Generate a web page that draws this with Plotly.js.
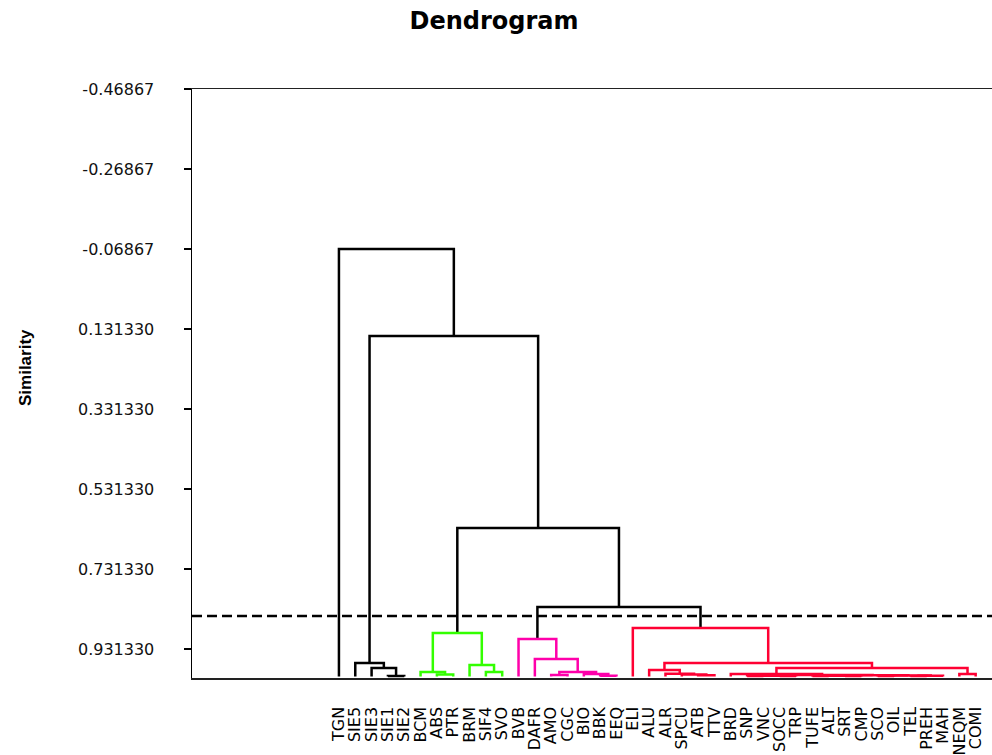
<!DOCTYPE html>
<html>
<head>
<meta charset="utf-8">
<script src="https://cdn.plot.ly/plotly-3.0.1.min.js"></script>
<style>
  html, body { margin: 0; padding: 0; background: #ffffff; }
  #chart { width: 992px; height: 755px; }
</style>
</head>
<body>
<div id="chart"></div>
<script>
// ---- data ----
const leafLabels = ['TGN','SIE5','SIE3','SIE1','SIE2','BCM','ABS','PTR','BRM','SIF4','SVO',
  'BVB','DAFR','AMO','CGC','BIO','BBK','EEQ','ELI','ALU','ALR','SPCU','ATB','TTV','BRD',
  'SNP','VNC','SOCC','TRP','TUFE','ALT','SRT','CMP','SCO','OIL','TEL','PREH','MAH','NEQM','COMI'];
// final cluster of each leaf (index into clusterColors)
const leafCluster = [0,1,1,1,1,2,2,2,2,2,2,3,3,3,3,3,3,3,4,4,4,4,4,4,4,4,4,4,4,4,4,4,4,4,4,4,4,4,4,4];
const clusterColors = ['#000000','#000000','#33ff00','#ff00aa','#ff0033'];
const linkColor = '#000000';
// linkage: node ids 0..39 are leaves, 40+k is merge k
const mergeLeft  = [3, 2, 1, 6, 5, 9, 8, 44, 13, 16, 15, 48, 12, 11, 22, 21, 20, 19, 25, 27, 58, 29, 31, 61, 33, 35, 65, 64, 63, 60, 24, 38, 70, 57, 18, 53, 47, 42, 0];
const mergeRight = [4, 40, 41, 7, 43, 10, 45, 46, 14, 17, 49, 50, 51, 52, 23, 54, 55, 56, 26, 28, 59, 30, 32, 62, 34, 36, 37, 66, 67, 68, 69, 39, 71, 72, 73, 74, 75, 76, 77];
const mergeSimilarity = [0.9988, 0.9788, 0.9663, 0.9950, 0.9888, 0.9888, 0.9713, 0.8913,
  0.9963, 0.9980, 0.9938, 0.9888, 0.9563, 0.9063,
  0.9970, 0.9950, 0.9930, 0.9838,
  0.9990, 0.9990, 0.9980, 0.9990, 0.9990, 0.9980, 0.9990, 0.9990, 0.9980, 0.9975, 0.9970, 0.9960, 0.9940,
  0.9938, 0.9788, 0.9663, 0.8788, 0.8263, 0.6288, 0.1488, -0.0687];
const leafSimilarity = 1.0;
const cutLevel = 0.8488;
const yTickValues = [-0.46867, -0.26867, -0.06867, 0.13133, 0.33133, 0.53133, 0.73133, 0.93133];
const yTickLabels = ['-0.46867','-0.26867','-0.06867','0.131330','0.331330','0.531330','0.731330','0.931330'];

// ---- build dendrogram segments ----
const nLeaves = leafLabels.length;
const nodeX = [], nodeH = [], nodeC = [];
for (let i = 0; i < nLeaves; i++) { nodeX.push(i); nodeH.push(leafSimilarity); nodeC.push(leafCluster[i]); }
const segs = {};
for (let k = 0; k < mergeLeft.length; k++) {
  const a = mergeLeft[k], b = mergeRight[k], h = mergeSimilarity[k];
  const c = (nodeC[a] === nodeC[b]) ? nodeC[a] : -1;
  const col = c >= 0 ? clusterColors[c] : linkColor;
  if (!segs[col]) segs[col] = {x: [], y: []};
  segs[col].x.push(nodeX[a], nodeX[a], nodeX[b], nodeX[b], null);
  segs[col].y.push(nodeH[a], h, h, nodeH[b], null);
  nodeX.push((nodeX[a] + nodeX[b]) / 2); nodeH.push(h); nodeC.push(c);
}
const traces = Object.keys(segs).map(col => ({
  type: 'scatter', mode: 'lines', x: segs[col].x, y: segs[col].y,
  line: {color: col, width: 2.5}, hoverinfo: 'skip', showlegend: false
}));

const layout = {
  width: 992, height: 755,
  margin: {l: 192, r: 0, t: 89, b: 77},
  paper_bgcolor: '#ffffff', plot_bgcolor: '#ffffff',
  showlegend: false,
  title: {text: 'Dendrogram', x: 494/992, xanchor: 'center', xref: 'container', y: 1 - 21/755, yanchor: 'middle', yref: 'container',
          font: {family: 'DejaVu Sans', size: 24, color: '#000000', weight: 'bold'}},
  xaxis: {
    range: [-9, 40], autorange: false, automargin: false,
    tickmode: 'array', tickvals: leafLabels.map((_, i) => i), ticktext: leafLabels,
    tickangle: -90, ticks: '', ticklabelstandoff: 21,
    tickfont: {family: 'DejaVu Sans', size: 16, color: '#000000'},
    showgrid: false, zeroline: false, showline: true, mirror: true, linecolor: '#222222', linewidth: 1.5
  },
  yaxis: {
    range: [1.0038, -0.46867], autorange: false, automargin: false,
    tickmode: 'array', tickvals: yTickValues, ticktext: yTickLabels,
    ticks: 'outside', ticklen: 7, tickwidth: 1.2, tickcolor: '#000000', ticklabelstandoff: 26,
    tickfont: {family: 'DejaVu Sans', size: 16, color: '#111111'},
    showgrid: false, zeroline: false, showline: true, linecolor: '#000000', linewidth: 1.5
  },
  annotations: [{text: 'Similarity', xref: 'paper', yref: 'paper', x: (25 - 192) / 800, y: (678 - 368) / 589,
                 xanchor: 'center', yanchor: 'middle', textangle: -90, showarrow: false,
                 font: {family: 'Liberation Sans', size: 17, color: '#000000', weight: 'bold'}}],
  shapes: [{type: 'line', xref: 'paper', x0: 0, x1: 1, yref: 'y', y0: cutLevel, y1: cutLevel,
            line: {color: '#000000', width: 2.5, dash: '10px,5px'}}]
};

Plotly.newPlot('chart', traces, layout, {displayModeBar: false, staticPlot: true});
</script>
</body>
</html>
